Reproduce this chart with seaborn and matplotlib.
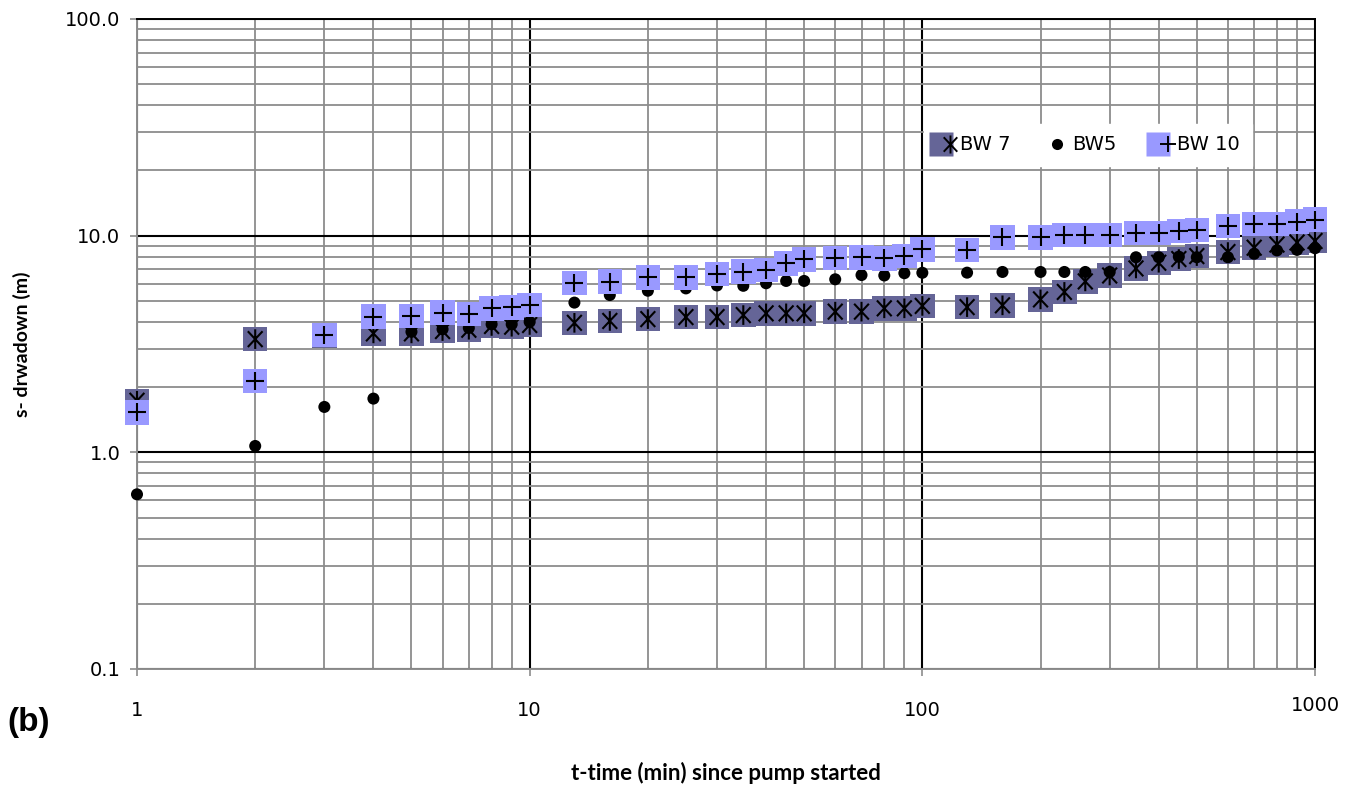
import numpy as np
import pandas as pd
import matplotlib
matplotlib.use("Agg")
import matplotlib.pyplot as plt
import seaborn as sns
from matplotlib.lines import Line2D
from matplotlib.path import Path
from matplotlib.legend_handler import HandlerTuple
from matplotlib.ticker import FixedLocator, NullFormatter, LogLocator

# ---------------- data ----------------
time_min = [1, 2, 3, 4, 5, 6, 7, 8, 9, 10, 13, 16, 20, 25, 30, 35, 40, 45, 50, 60,
            70, 80, 90, 100, 130, 160, 200, 230, 260, 300, 350, 400, 450, 500, 600,
            700, 800, 900, 1000]
bw7 = [1.73, 3.33, 3.45, 3.54, 3.54, 3.63, 3.68, 3.83, 3.80, 3.87, 3.96, 4.04, 4.12,
       4.21, 4.21, 4.30, 4.38, 4.38, 4.38, 4.46, 4.46, 4.62, 4.62, 4.74, 4.68, 4.77,
       5.08, 5.50, 6.15, 6.55, 7.06, 7.50, 7.80, 8.05, 8.40, 8.80, 9.10, 9.30, 9.45]
bw5 = [0.64, 1.07, 1.62, 1.77, 3.60, 3.70, 3.75, 3.90, 3.90, 4.00, 4.91, 5.32, 5.57,
       5.71, 5.89, 5.87, 6.03, 6.18, 6.18, 6.29, 6.58, 6.55, 6.71, 6.74, 6.75, 6.80,
       6.80, 6.80, 6.80, 6.80, 7.95, 7.95, 8.00, 7.95, 7.95, 8.25, 8.55, 8.60, 8.75]
bw10 = [1.53, 2.13, 3.48, 4.23, 4.27, 4.41, 4.35, 4.62, 4.67, 4.79, 6.03, 6.13, 6.42,
        6.42, 6.66, 6.82, 6.94, 7.45, 7.78, 7.91, 7.93, 7.85, 8.05, 8.65, 8.59, 9.83,
        9.83, 10.07, 10.07, 10.07, 10.27, 10.27, 10.50, 10.65, 11.10, 11.35, 11.35,
        11.60, 11.85]
series_labels = ["BW 7", "BW5", "BW 10"]
x_tick_values = [1, 10, 100, 1000]
x_tick_labels = ["1", "10", "100", "1000"]
y_tick_values = [0.1, 1, 10, 100]
y_tick_labels = ["0.1", "1.0", "10.0", "100.0"]
x_label = "t-time (min) since pump started"
y_label = "s- drwadown (m)"
panel_label = "(b)"

# ---------------- style ----------------
sns.set_theme(style="white")
plt.rcParams['font.family'] = ['DejaVu Sans']
plt.rcParams['text.color'] = 'black'

C_BW7 = "#656597"
C_BW10 = "#9999ff"
GRID_MINOR = "#8c8c8c"

# Excel-like asterisk: X plus a vertical bar
ASTER = Path([(0, -1), (0, 1), (-0.75, -0.8), (0.75, 0.8), (-0.75, 0.8), (0.75, -0.8)],
             [Path.MOVETO, Path.LINETO, Path.MOVETO, Path.LINETO, Path.MOVETO, Path.LINETO])

df = pd.DataFrame({"t": time_min, series_labels[0]: bw7,
                   series_labels[1]: bw5, series_labels[2]: bw10})

W, H = 1350, 788
fig = plt.figure(figsize=(W / 100, H / 100), dpi=100)
ax = fig.add_axes([137 / W, 1 - 669 / H, (1315 - 137) / W, (669 - 19) / H])
ax.set_xscale("log")
ax.set_yscale("log")

SQ = 310
# BW 7: dark square + asterisk
sns.scatterplot(data=df, x="t", y=series_labels[0], marker="s", s=SQ, color=C_BW7,
                edgecolor="none", linewidth=0, ax=ax, zorder=3, clip_on=False)
sns.scatterplot(data=df, x="t", y=series_labels[0], marker=ASTER, s=200,
                facecolor="none", edgecolor="black", linewidth=1.5, ax=ax, zorder=4,
                clip_on=False)
# BW5: black dot
sns.scatterplot(data=df, x="t", y=series_labels[1], marker="o", s=75, color="black",
                edgecolor="none", linewidth=0, ax=ax, zorder=5, clip_on=False)
# BW 10: light square + plus
sns.scatterplot(data=df, x="t", y=series_labels[2], marker="s", s=SQ, color=C_BW10,
                edgecolor="none", linewidth=0, ax=ax, zorder=6, clip_on=False)
sns.scatterplot(data=df, x="t", y=series_labels[2], marker="+", s=160,
                color="black", linewidth=1.5, ax=ax, zorder=7, clip_on=False)

ax.set_xlim(1, 1000)
ax.set_ylim(0.1, 100)

ax.xaxis.set_major_locator(FixedLocator(x_tick_values))
ax.yaxis.set_major_locator(FixedLocator(y_tick_values))
ax.set_xticklabels(x_tick_labels)
ax.set_yticklabels(y_tick_labels)
ax.xaxis.set_minor_locator(LogLocator(base=10, subs=np.arange(2, 10)))
ax.yaxis.set_minor_locator(LogLocator(base=10, subs=np.arange(2, 10)))
ax.xaxis.set_minor_formatter(NullFormatter())
ax.yaxis.set_minor_formatter(NullFormatter())

ax.set_axisbelow(True)
ax.grid(which="minor", color=GRID_MINOR, linewidth=1.3)
ax.grid(which="major", color="black", linewidth=1.5)

ax.tick_params(axis="both", which="major", direction="out", length=5, width=1.2,
               color=GRID_MINOR, labelsize=14, labelcolor="black",
               left=True, bottom=True)
ax.tick_params(axis="y", which="major", pad=7)
ax.tick_params(axis="x", which="major", pad=18)
ax.tick_params(which="minor", length=0)

# last x label sits slightly higher in the reference
ax.xaxis.get_major_ticks()[-1].label1.set_y(5 / 650)

for side in ["left", "bottom"]:
    ax.spines[side].set_color(GRID_MINOR)
    ax.spines[side].set_linewidth(1.4)
for side in ["top", "right"]:
    ax.spines[side].set_color("black")
    ax.spines[side].set_linewidth(1.4)

ax.set_xlabel("")
ax.set_ylabel("")

fig.text(22 / W, 1 - 344 / H, y_label, rotation=90, ha="center", va="center",
         fontsize=14, fontweight="bold", family=["Lato", "DejaVu Sans"])
fig.text(726 / W, 1 - 773 / H, x_label, ha="center", va="center",
         fontsize=16, fontweight="bold", family=["Lato", "DejaVu Sans"])
fig.text(7 / W, 1 - 722 / H, panel_label, ha="left", va="center",
         fontsize=24, fontweight="bold", family=["Liberation Sans", "DejaVu Sans"])

# legend
h7 = (Line2D([], [], ls="none", marker="s", markersize=17, color=C_BW7, mec="none"),
      Line2D([], [], ls="none", marker=ASTER, markersize=13, mfc="none", mec="black",
             mew=1.4))
h5 = Line2D([], [], ls="none", marker="o", markersize=8, color="black", mec="none")
h10 = (Line2D([], [], ls="none", marker="s", markersize=17, color=C_BW10, mec="none"),
       Line2D([], [], ls="none", marker="+", markersize=12, color="black", mew=1.4))
leg = ax.legend([h7, h5, h10], series_labels, ncol=3,
                handler_map={tuple: HandlerTuple(ndivide=None, pad=0)},
                loc="center", bbox_to_anchor=((1088 - 137) / 1178, (669 - 145) / 650),
                frameon=True, framealpha=1, facecolor="white", edgecolor="white",
                fancybox=False, fontsize=14, handlelength=1.0, handletextpad=0.25,
                columnspacing=1.9, borderpad=0.6, labelcolor="black")
leg.set_zorder(10)

fig.savefig("out.png", dpi=100)
